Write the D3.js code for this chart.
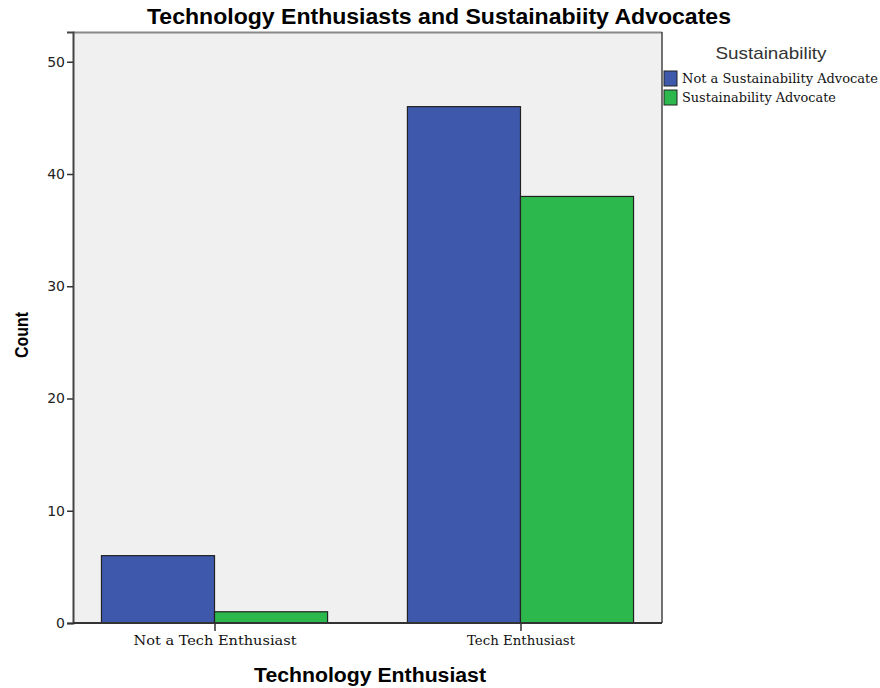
<!DOCTYPE html>
<html><head><meta charset="utf-8">
<script src="https://cdn.jsdelivr.net/npm/d3@7"></script>
<style>body{margin:0;background:#fff}</style>
</head><body>
<script>
const categories = ["Not a Tech Enthusiast", "Tech Enthusiast"];
const seriesNames = ["Not a Sustainability Advocate", "Sustainability Advocate"];
const notAdvocate = [6, 46];
const advocate = [1, 38];
const yTicks = [0, 10, 20, 30, 40, 50];
const colors = ["#3e58ac", "#2db84d"];

const W = 880, H = 688;
const m = {left: 73, right: 218, top: 32, bottom: 65};
const svg = d3.select("body").append("svg").attr("width", W).attr("height", H);
const x0 = m.left, x1 = W - m.right, yb = H - m.bottom, yt = m.top;

const y = d3.scaleLinear().domain([0, 52.65]).range([yb, yt]);
const xp = d3.scalePoint().domain(categories).range([x0, x1]).padding(0.4625);
const step = xp.step();
const groupW = step * 0.739;
const xs = d3.scaleBand().domain(seriesNames).range([-groupW/2, groupW/2]).padding(0);

svg.append("rect").attr("x", x0).attr("y", yt).attr("width", x1 - x0).attr("height", yb - yt)
  .attr("fill", "#f0f0f0").attr("stroke", "none");
svg.append("line").attr("x1", x0).attr("x2", x1).attr("y1", yt+0.5).attr("y2", yt+0.5).attr("stroke", "#888").attr("stroke-width", 2);
svg.append("line").attr("x1", x1).attr("x2", x1).attr("y1", yt).attr("y2", yb).attr("stroke", "#444").attr("stroke-width", 1.5);

const series = [notAdvocate, advocate];
series.forEach((vals, si) => {
  svg.append("g").selectAll("rect").data(categories).join("rect")
    .attr("x", (c) => xp(c) + xs(seriesNames[si]))
    .attr("width", xs.bandwidth())
    .attr("y", (c, i) => y(vals[i]))
    .attr("height", (c, i) => yb - y(vals[i]))
    .attr("fill", colors[si]).attr("stroke", "#222").attr("stroke-width", 1.2);
});

const ya = svg.append("g").attr("transform", `translate(${x0},0)`)
  .call(d3.axisLeft(y).tickValues(yTicks).tickSize(6).tickPadding(2));
ya.select(".domain").attr("stroke", "#444").attr("stroke-width", 2);
ya.selectAll(".tick line").attr("stroke", "#333").attr("stroke-width", 1.5);
ya.selectAll("text").attr("font-family", "DejaVu Sans, sans-serif").attr("font-size", 14).attr("fill", "#222");

const xa = svg.append("g").attr("transform", `translate(0,${yb})`)
  .call(d3.axisBottom(xp).tickSize(8).tickPadding(5).tickSizeOuter(0));
xa.select(".domain").attr("stroke", "#333").attr("stroke-width", 2).attr("d", `M${x0},0H${x1}`);
xa.selectAll(".tick line").attr("stroke", "#333").attr("stroke-width", 1.5);
xa.selectAll("text").attr("font-family", "DejaVu Serif, serif").attr("font-size", 13).attr("fill", "#111")
  .attr("textLength", (d, i) => i === 0 ? 163 : 108).attr("lengthAdjust", "spacingAndGlyphs");

svg.append("text").attr("x", 439).attr("y", 24).attr("text-anchor", "middle")
  .attr("font-family", "Liberation Sans, Arial, sans-serif").attr("font-weight", "bold").attr("font-size", 22)
  .attr("textLength", 584).attr("lengthAdjust", "spacingAndGlyphs")
  .text("Technology Enthusiasts and Sustainabiity Advocates");
svg.append("text").attr("x", 370).attr("y", 682).attr("text-anchor", "middle")
  .attr("font-family", "Liberation Sans, Arial, sans-serif").attr("font-weight", "bold").attr("font-size", 20)
  .attr("textLength", 232).attr("lengthAdjust", "spacingAndGlyphs")
  .text("Technology Enthusiast");
svg.append("text").attr("transform", "translate(28,335) rotate(-90)").attr("text-anchor", "middle")
  .attr("font-family", "Liberation Sans, Arial, sans-serif").attr("font-weight", "bold").attr("font-size", 19)
  .attr("textLength", 46).attr("lengthAdjust", "spacingAndGlyphs")
  .text("Count");

svg.append("text").attr("x", 771).attr("y", 59).attr("text-anchor", "middle")
  .attr("font-family", "Liberation Sans, Arial, sans-serif").attr("font-size", 17).attr("fill", "#333")
  .attr("textLength", 111).attr("lengthAdjust", "spacingAndGlyphs")
  .text("Sustainability");
const lg = svg.append("g").selectAll("g").data(seriesNames).join("g")
  .attr("transform", (d, i) => `translate(664,${71 + i * 19})`);
lg.append("rect").attr("width", 13).attr("height", 15).attr("fill", (d, i) => colors[i]).attr("stroke", "#222").attr("stroke-width", 1);
lg.append("text").attr("x", 18).attr("y", 12).attr("font-family", "DejaVu Serif, serif").attr("font-size", 12).attr("fill", "#111")
  .attr("textLength", (d, i) => i === 0 ? 196 : 154).attr("lengthAdjust", "spacingAndGlyphs")
  .text(d => d);
</script>
</body></html>
